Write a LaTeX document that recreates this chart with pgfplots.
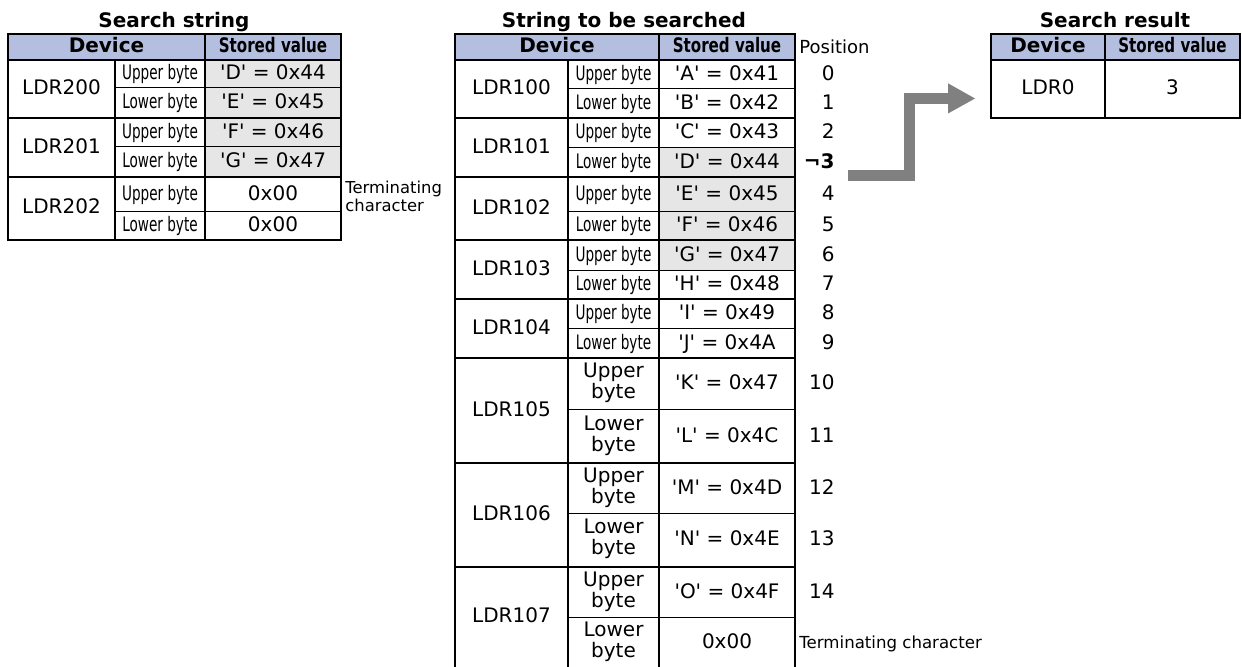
\documentclass[border=0pt]{standalone}
\usepackage{pgfplots}
\pgfplotsset{compat=1.18}
\usepackage{fontspec}
\newfontfamily\dv{DejaVu Sans}
\newfontfamily\cnd[FakeStretch=0.68]{DejaVu Sans}
\newfontfamily\cndb[FakeStretch=0.755]{DejaVu Sans}
\definecolor{hdr}{HTML}{B4BEDE}
\definecolor{cellg}{HTML}{E6E6E6}
\definecolor{arr}{HTML}{808080}
\begin{document}
\begin{tikzpicture}[
  t/.style={anchor=base, inner sep=0pt, font=\dv\fontsize{10}{12}\selectfont},
  c/.style={anchor=base, inner sep=0pt, font=\cnd\fontsize{10}{12}\selectfont},
  hd/.style={anchor=base, inner sep=0pt, font=\dv\bfseries\fontsize{10}{12}\selectfont},
  hs/.style={anchor=base, inner sep=0pt, font=\cndb\bfseries\fontsize{10}{12}\selectfont},
  pn/.style={anchor=base east, inner sep=0pt, font=\dv\fontsize{10}{12}\selectfont},
  sm/.style={anchor=base west, inner sep=0pt, font=\dv\fontsize{8.2}{9}\selectfont},
  thick line/.style={line width=1pt, line cap=rect},
  thin line/.style={line width=0.5pt}]
\begin{axis}[name=ax, x=0.5pt, y=0.5pt, scale only axis,
  xmin=0, xmax=1242, ymin=0, ymax=667, y dir=reverse,
  hide axis, clip=false]

% ---------- fills ----------
\fill[hdr] (8,34) rectangle (341,60);
\fill[cellg] (205,60) rectangle (341,177);
\fill[hdr] (455,34) rectangle (795,60);
\fill[cellg] (659,148) rectangle (795,271);
\fill[hdr] (991,34) rectangle (1240,60);

% ---------- left table ----------
\draw[thin line] (115,88) -- (341,88);
\draw[thin line] (115,147) -- (341,147);
\draw[thin line] (115,212) -- (341,212);
\draw[thick line] (8,34) rectangle (341,240);
\draw[thick line] (205,34) -- (205,240);
\draw[thick line] (115,60) -- (115,240);
\draw[thick line] (8,60) -- (341,60);
\draw[thick line] (8,118) -- (341,118);
\draw[thick line] (8,177) -- (341,177);

% ---------- middle table ----------
\draw[thin line] (568,89) -- (795,89);
\draw[thin line] (568,148) -- (795,148);
\draw[thin line] (568,212) -- (795,212);
\draw[thin line] (568,271) -- (795,271);
\draw[thin line] (568,329) -- (795,329);
\draw[thin line] (568,410) -- (795,410);
\draw[thin line] (568,514) -- (795,514);
\draw[thin line] (568,618) -- (795,618);
\draw[thick line] (455,668) -- (455,34) -- (795,34) -- (795,668);
\draw[thick line] (659,34) -- (659,668);
\draw[thick line] (568,60) -- (568,668);
\draw[thick line] (455,60) -- (795,60);
\draw[thick line] (455,118) -- (795,118);
\draw[thick line] (455,177) -- (795,177);
\draw[thick line] (455,240) -- (795,240);
\draw[thick line] (455,299) -- (795,299);
\draw[thick line] (455,358) -- (795,358);
\draw[thick line] (455,463) -- (795,463);
\draw[thick line] (455,567) -- (795,567);

% ---------- right table ----------
\draw[thick line] (991,34) rectangle (1240,118);
\draw[thick line] (1105,34) -- (1105,118);
\draw[thick line] (991,60) -- (1240,60);

% ---------- arrow ----------
\draw[arr, line width=5.5pt, line join=miter] (848,175.5) -- (909.7,175.5) -- (909.7,98.5) -- (949,98.5);
\fill[arr] (948,83.3) -- (975,98.5) -- (948,113.5) -- cycle;

% ---------- titles ----------
\node[hd] at (174,28) {Search string};
\node[hd] at (624,28) {String to be searched};
\node[hd] at (1115,28) {Search result};

% ---------- headers ----------
\node[hd] at (106.5,53) {Device};
\node[hs] at (273,53) {Stored value};
\node[hd] at (557,53) {Device};
\node[hs] at (727,53) {Stored value};
\node[hd] at (1048,53) {Device};
\node[hs] at (1172.5,53) {Stored value};
\node[anchor=base west, inner sep=0pt, font=\dv\fontsize{9}{11}\selectfont] at (799,54) {Position};

% ---------- left table body ----------
\node[t] at (61.5,95) {LDR200};
\node[t] at (61.5,153.5) {LDR201};
\node[t] at (61.5,214) {LDR202};
\node[c] at (160,80) {Upper byte};
\node[c] at (160,109) {Lower byte};
\node[c] at (160,138.5) {Upper byte};
\node[c] at (160,168) {Lower byte};
\node[c] at (160,201) {Upper byte};
\node[c] at (160,232) {Lower byte};
\node[t] at (273,80) {'D' = 0x44};
\node[t] at (273,109) {'E' = 0x45};
\node[t] at (273,138.5) {'F' = 0x46};
\node[t] at (273,168) {'G' = 0x47};
\node[t] at (273,201) {0x00};
\node[t] at (273,232) {0x00};
\node[sm] at (345,194) {Terminating};
\node[sm] at (345,212) {character};

% ---------- middle table body ----------
\node[t] at (511.5,95) {LDR100};
\node[t] at (511.5,153.5) {LDR101};
\node[t] at (511.5,214.5) {LDR102};
\node[t] at (511.5,275.5) {LDR103};
\node[t] at (511.5,334.5) {LDR104};
\node[t] at (511.5,416.5) {LDR105};
\node[t] at (511.5,521) {LDR106};
\node[t] at (511.5,623) {LDR107};

\node[c] at (613.5,80.5) {Upper byte};
\node[c] at (613.5,109.5) {Lower byte};
\node[c] at (613.5,139) {Upper byte};
\node[c] at (613.5,168.5) {Lower byte};
\node[c] at (613.5,200.5) {Upper byte};
\node[c] at (613.5,232) {Lower byte};
\node[c] at (613.5,261.5) {Upper byte};
\node[c] at (613.5,291) {Lower byte};
\node[c] at (613.5,320) {Upper byte};
\node[c] at (613.5,349.5) {Lower byte};
\node[t] at (613.5,378) {Upper};
\node[t] at (613.5,399) {byte};
\node[t] at (613.5,430.5) {Lower};
\node[t] at (613.5,451.5) {byte};
\node[t] at (613.5,482.5) {Upper};
\node[t] at (613.5,503.5) {byte};
\node[t] at (613.5,534) {Lower};
\node[t] at (613.5,555) {byte};
\node[t] at (613.5,586.5) {Upper};
\node[t] at (613.5,607.5) {byte};
\node[t] at (613.5,636.5) {Lower};
\node[t] at (613.5,657.5) {byte};

\node[t] at (727,80.5) {'A' = 0x41};
\node[t] at (727,109.5) {'B' = 0x42};
\node[t] at (727,139) {'C' = 0x43};
\node[t] at (727,168.5) {'D' = 0x44};
\node[t] at (727,200.5) {'E' = 0x45};
\node[t] at (727,232) {'F' = 0x46};
\node[t] at (727,261.5) {'G' = 0x47};
\node[t] at (727,291) {'H' = 0x48};
\node[t] at (727,320) {'I' = 0x49};
\node[t] at (727,349.5) {'J' = 0x4A};
\node[t] at (727,390) {'K' = 0x47};
\node[t] at (727,442.5) {'L' = 0x4C};
\node[t] at (727,494.5) {'M' = 0x4D};
\node[t] at (727,546) {'N' = 0x4E};
\node[t] at (727,598.5) {'O' = 0x4F};
\node[t] at (727,648.5) {0x00};

\node[pn] at (835,80.5) {0};
\node[pn] at (835,109.5) {1};
\node[pn] at (835,139) {2};
\node[pn] at (835,168.5) {\bfseries ¬3};
\node[pn] at (835,200.5) {4};
\node[pn] at (835,232) {5};
\node[pn] at (835,261.5) {6};
\node[pn] at (835,291) {7};
\node[pn] at (835,320) {8};
\node[pn] at (835,349.5) {9};
\node[pn] at (835,390) {10};
\node[pn] at (835,442.5) {11};
\node[pn] at (835,494.5) {12};
\node[pn] at (835,546) {13};
\node[pn] at (835,598.5) {14};
\node[anchor=base west, inner sep=0pt, font=\dv\fontsize{8.3}{10}\selectfont] at (799,648) {Terminating character};

% ---------- right table body ----------
\node[t] at (1048,95) {LDR0};
\node[t] at (1172.5,95) {3};
\end{axis}
\pgfresetboundingbox
\path (ax.south west) rectangle (ax.north east);
\end{tikzpicture}
\end{document}
